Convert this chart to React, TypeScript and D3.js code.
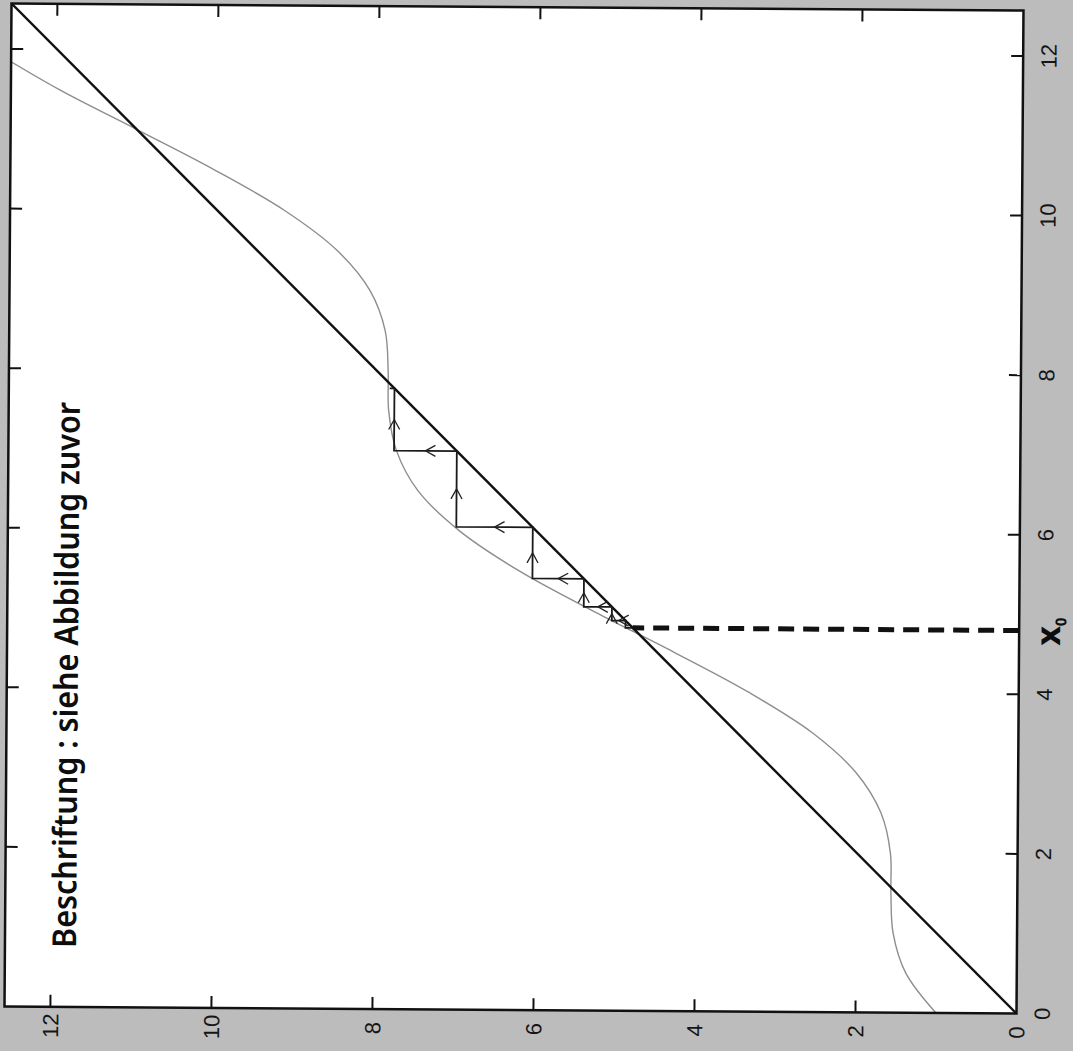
import React from 'react';
import * as d3 from 'd3';

const W = 1073;
const H = 1051;

// axis ticks (both axes 0..12)
const tickValues = [0, 2, 4, 6, 8, 10, 12];
const tickLabels = ['0', '2', '4', '6', '8', '10', '12'];
const axisMax = 12.57;

// grey curve (original x -> original y)
const curveX = [0, 0.5, 1, 1.5, 2, 2.5, 3, 3.5, 4, 4.5, 5, 5.5, 6, 6.5, 7, 7.5, 8, 8.5, 9, 9.5, 10, 10.5, 11, 11.5, 12];
const curveY = [1.0, 1.38, 1.54, 1.57, 1.58, 1.7, 2.01, 2.56, 3.35, 4.29, 5.28, 6.21, 6.96, 7.48, 7.75, 7.85, 7.86, 7.9, 8.09, 8.5, 9.16, 10.03, 11.0, 11.98, 12.84];

// identity line y = x
const diagonalX = [0, 12.57];

// cobweb iterates
const cobwebX = [4.8, 4.89, 5.06, 5.41, 6.05, 7.0, 7.78, 7.84];
const startX = 4.8;

const noteText = 'Beschriftung : siehe Abbildung zuvor';

export default function App() {
  // original x -> image y ; original y -> image x (chart is turned 90°)
  const xS = d3.scaleLinear().domain([0, axisMax]).range([1010, 7]);
  const yS = d3.scaleLinear().domain([0, axisMax]).range([1020, 8]);

  const L = yS(axisMax), R = yS(0), T = xS(axisMax), B = xS(0);

  const line = d3.line<[number, number]>().x(d => yS(d[1])).y(d => xS(d[0]));
  const smooth = d3
    .line<[number, number]>()
    .x(d => yS(d[1]))
    .y(d => xS(d[0]))
    .curve(d3.curveCatmullRom.alpha(0.5));

  const curvePts: [number, number][] = curveX.map((x, i) => [x, curveY[i]]);
  const diagPts: [number, number][] = diagonalX.map(x => [x, x]);

  const cw: [number, number][] = [[cobwebX[0], cobwebX[0]]];
  const n = cobwebX.length;
  for (let i = 0; i < n - 1; i++) {
    cw.push([cobwebX[i], cobwebX[i + 1]]);
    if (i < n - 2) cw.push([cobwebX[i + 1], cobwebX[i + 1]]);
  }

  const arrows: string[] = [];
  for (let i = 0; i < cw.length - 1; i++) {
    const x1 = yS(cw[i][1]), y1 = xS(cw[i][0]);
    const x2 = yS(cw[i + 1][1]), y2 = xS(cw[i + 1][0]);
    const len = Math.hypot(x2 - x1, y2 - y1);
    if (len < 9) continue;
    const dx = (x2 - x1) / len, dy = (y2 - y1) / len;
    const mx = (x1 + x2) / 2, my = (y1 + y2) / 2;
    const a = 10, w = 5.5;
    const bx = mx - dx * a, by = my - dy * a;
    arrows.push(
      `M${bx - dy * w},${by + dx * w}L${mx},${my}L${bx + dy * w},${by - dx * w}`
    );
  }

  const dashPts: [number, number][] = [[startX, 0], [startX, startX]];

  const ticks = tickValues.filter(t => t > 0);
  const tl = 12;

  return (
    <svg
      width={W}
      height={H}
      style={{ position: 'absolute', left: 0, top: 0, display: 'block' }}
    >
      <defs>
        <clipPath id="plotclip">
          <rect x={L} y={T} width={R - L} height={B - T} />
        </clipPath>
      </defs>
      <rect x={0} y={0} width={W} height={H} fill="#bcbcbc" />
      <g transform="rotate(0.4 514 508)">
        <rect x={L} y={T} width={R - L} height={B - T} fill="#ffffff" />
        <g clipPath="url(#plotclip)">
          <path d={smooth(curvePts) || ''} fill="none" stroke="#8e8e8e" strokeWidth={1.4} />
          <path d={line(diagPts) || ''} fill="none" stroke="#111" strokeWidth={2.4} />
          <path d={line(cw) || ''} fill="none" stroke="#1a1a1a" strokeWidth={1.8} />
          {arrows.map((d, i) => (
            <path key={i} d={d} fill="none" stroke="#222" strokeWidth={1.3} />
          ))}
          <path
            d={line(dashPts) || ''}
            fill="none"
            stroke="#111"
            strokeWidth={5}
            strokeDasharray="16 9"
          />
        </g>
        {ticks.map(t => (
          <g key={'t' + t} stroke="#111" strokeWidth={2}>
            <line x1={R - tl} x2={R} y1={xS(t)} y2={xS(t)} />
            <line x1={L} x2={L + tl} y1={xS(t)} y2={xS(t)} />
            <line x1={yS(t)} x2={yS(t)} y1={B - tl} y2={B} />
            <line x1={yS(t)} x2={yS(t)} y1={T} y2={T + tl} />
          </g>
        ))}
        <rect
          x={L}
          y={T}
          width={R - L}
          height={B - T}
          fill="none"
          stroke="#111"
          strokeWidth={2.5}
        />
        {tickValues.map((t, i) => (
          <text
            key={'r' + t}
            transform={`translate(1045.5,${xS(t)}) rotate(-90)`}
            textAnchor="middle"
            dy="0.36em"
            fontFamily="Liberation Sans, Arial, sans-serif"
            fontSize={22}
            fill="#151515"
          >
            {tickLabels[i]}
          </text>
        ))}
        {tickValues.map((t, i) => (
          <text
            key={'b' + t}
            transform={`translate(${yS(t)},1029) rotate(-90)`}
            textAnchor="middle"
            dy="0.36em"
            fontFamily="Liberation Sans, Arial, sans-serif"
            fontSize={22}
            fill="#151515"
          >
            {tickLabels[i]}
          </text>
        ))}
        <text
          transform="translate(79,951) rotate(-90)"
          fontFamily="Noto Sans, sans-serif"
          fontWeight={600}
          fontSize={33}
          textLength={546}
          lengthAdjust="spacingAndGlyphs"
          fill="#0d0d0d"
        >
          {noteText}
        </text>
        <text
          transform="translate(1061,642) rotate(-90)"
          fontFamily="Noto Sans, sans-serif"
          fontWeight={700}
          fontSize={34}
          fill="#0d0d0d"
        >
          x
          <tspan dy={6} fontSize={15}>0</tspan>
        </text>
      </g>
    </svg>
  );
}
